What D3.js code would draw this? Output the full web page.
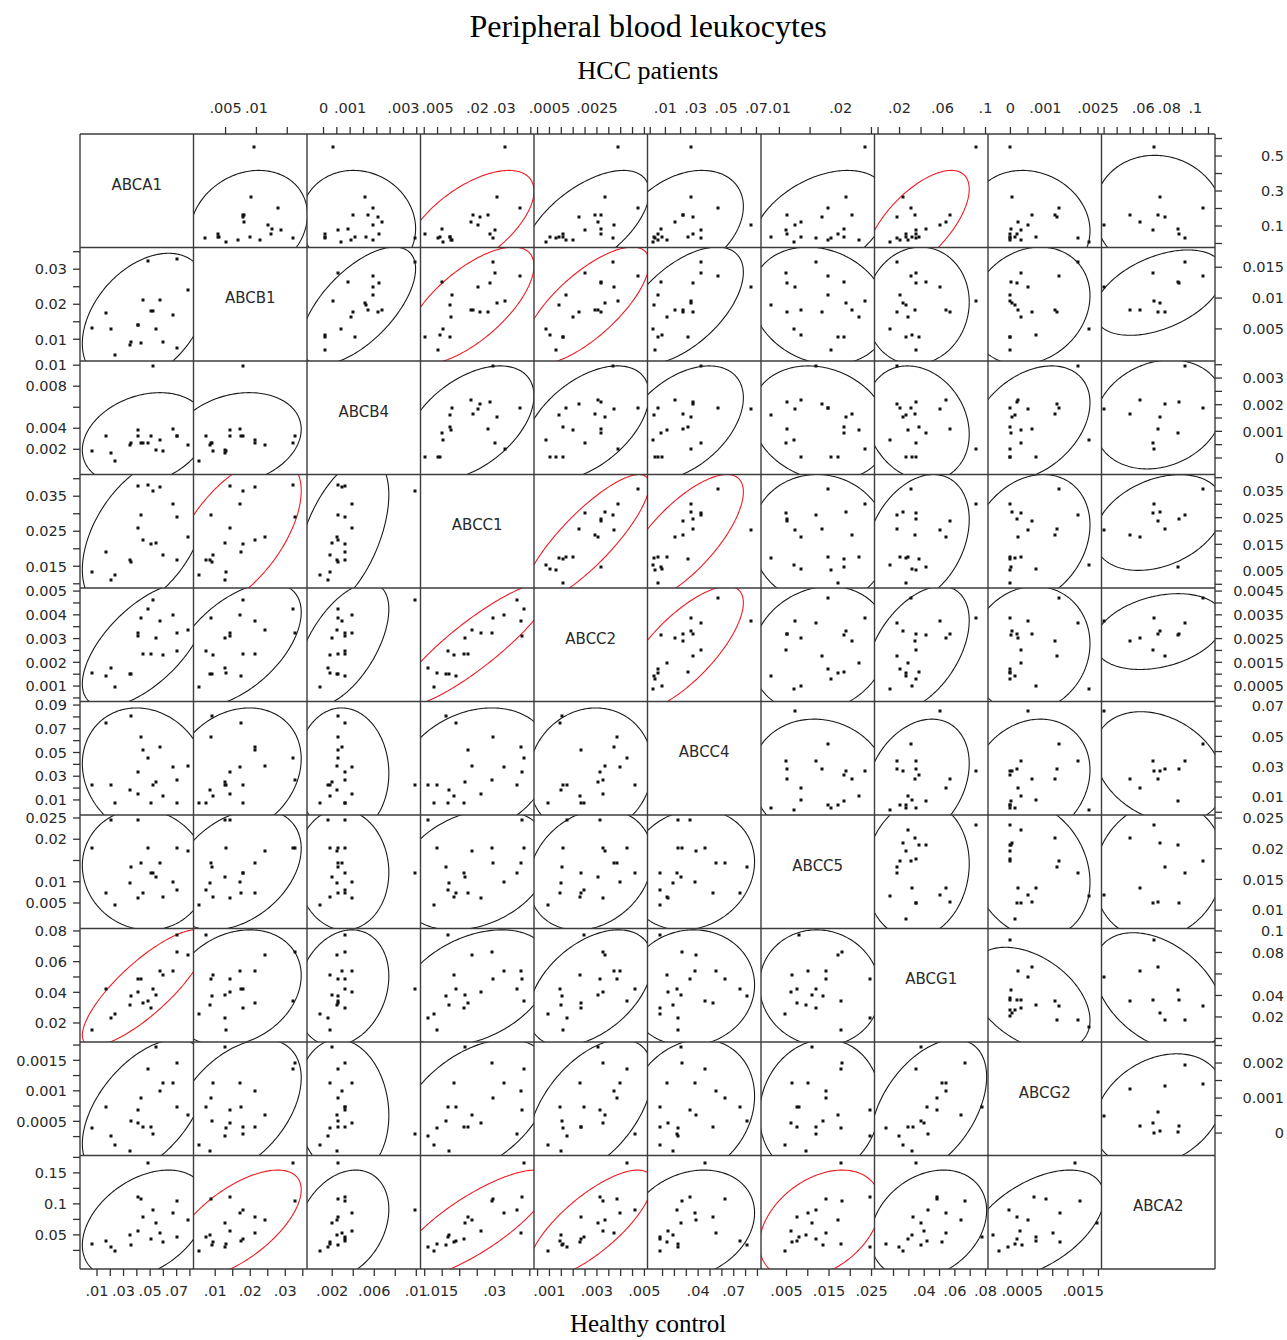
<!DOCTYPE html>
<html>
<head>
<meta charset="utf-8">
<script src="https://cdn.jsdelivr.net/npm/d3@7"></script>
<style>
  body { margin: 0; background: #fff; }
</style>
</head>
<body>
<svg id="chart" width="1287" height="1340"></svg>
<script>
// ---- transporter genes, in matrix order ----
const genes = ["ABCA1", "ABCB1", "ABCB4", "ABCC1", "ABCC2", "ABCC4", "ABCC5", "ABCG1", "ABCG2", "ABCA2"];

// ---- HCC patients (relative expression, one entry per patient) ----
const hccABCA1 = [0.201, 0.553, 0.267, 0.077, 0.030, 0.056, 0.161, 0.151, 0.104, 0.161, 0.125, 0.020, 0.022, 0.037, 0.035, 0.010, 0.085, 0.037, 0.030, 0.056];
const hccABCB1 = [0.0135, 0.0096, 0.0092, 0.0140, 0.0159, 0.0124, 0.0078, 0.0078, 0.0118, 0.0080, 0.0080, 0.0105, 0.0070, 0.0089, 0.0037, 0.0050, 0.0126, 0.0040, 0.0016, 0.0037];
const hccABCB4 = [0.00186, 0.00035, 0.00155, 0.00055, 0.00345, 0.00210, 0.00110, 0.00204, 0.00185, 0.00166, 0.00218, 0.00186, 0.00105, 0.00160, 0.00117, 0.00066, 0.00093, 0.00004, 0.00004, 0.00004];
const hccABCC1 = [0.0359, 0.0303, 0.0272, 0.0266, 0.0259, 0.0246, 0.0239, 0.0208, 0.0202, 0.0184, 0.0177, 0.0104, 0.0102, 0.0098, 0.0096, 0.0072, 0.0066, 0.0059, 0.0053, 0.0003];
const hccABCC2 = [0.00422, 0.00338, 0.00283, 0.00200, 0.00316, 0.00268, 0.00268, 0.00176, 0.00324, 0.00240, 0.00253, 0.00120, 0.00148, 0.00092, 0.00109, 0.00037, 0.00266, 0.00052, 0.00078, 0.00107];
const hccABCC4 = [0.0447, 0.0271, 0.0271, 0.0337, 0.0337, 0.0285, 0.0216, 0.0282, 0.0667, 0.0216, 0.0161, 0.0048, 0.0108, 0.0025, 0.0248, 0.0016, 0.0074, 0.0079, 0.0031, 0.0051];
const hccABCC5 = [0.0180, 0.0239, 0.0209, 0.0111, 0.0160, 0.0112, 0.0113, 0.0170, 0.0125, 0.0218, 0.0136, 0.0180, 0.0230, 0.0086, 0.0206, 0.0123, 0.0206, 0.0136, 0.0184, 0.0196];
const hccABCG1 = [0.0303, 0.0916, 0.0233, 0.0356, 0.0172, 0.0356, 0.0667, 0.0172, 0.0576, 0.0344, 0.0630, 0.0205, 0.0279, 0.0262, 0.0377, 0.0111, 0.0450, 0.0315, 0.0356, 0.0262];
const hccABCG2 = [0.00140, 0.00000, 0.00005, 0.00029, 0.00193, 0.00019, 0.00061, 0.00133, 0.00050, 0.00127, 0.00021, 0.00000, 0.00029, 0.00012, 0.00000, 0.00225, 0.00003, 0.00074, 0.00000, 0.00000];
const hccABCA2 = [0.1060, 0.0683, 0.0726, 0.0676, 0.0918, 0.0871, 0.0716, 0.0763, 0.0302, 0.0497, 0.0575, null, null, null, null, null, 0.0868, null, null, null];

// ---- healthy controls ----
const ctrlABCA1 = [0.0485, 0.0409, 0.0573, 0.0523, 0.0673, 0.0435, 0.0699, 0.0409, 0.0787, 0.0447, 0.0548, 0.0510, 0.0171, 0.0598, 0.0347, 0.0699, 0.0359, 0.0063, 0.0233, 0.0208];
const ctrlABCB1 = [0.0323, 0.0142, 0.0213, 0.0180, 0.0170, 0.0089, 0.0328, 0.0142, 0.0242, 0.0213, 0.0128, 0.0180, 0.0175, 0.0093, 0.0084, 0.0075, 0.0092, 0.0132, 0.0054, 0.0128];
const ctrlABCB4 = [0.00259, 0.00322, 0.00290, 0.00989, 0.00392, 0.00259, 0.00322, 0.00386, 0.00243, 0.00259, 0.00195, 0.00322, 0.00322, 0.00179, 0.00243, 0.00322, 0.00259, 0.00179, 0.00084, 0.00163];
const ctrlABCC1 = [0.0383, 0.0379, 0.0376, 0.0364, 0.0327, 0.0295, 0.0292, 0.0260, 0.0235, 0.0225, 0.0216, 0.0213, 0.0190, 0.0183, 0.0169, 0.0167, 0.0162, 0.0135, 0.0126, 0.0110];
const ctrlABCC2 = [0.00425, 0.00312, 0.00373, 0.00461, 0.00398, 0.00386, 0.00325, 0.00325, 0.00336, 0.00234, 0.00304, 0.00234, 0.00144, 0.00230, 0.00150, 0.00247, 0.00152, 0.00156, 0.00096, 0.00174];
const ctrlABCC4 = [0.0454, 0.0334, 0.0550, 0.0225, 0.0377, 0.0628, 0.0264, 0.0148, 0.0385, 0.0524, 0.0255, 0.0078, 0.0750, 0.0134, 0.0186, 0.0078, 0.0809, 0.0229, 0.0078, 0.0229];
const ctrlABCC5 = [0.0179, 0.0246, 0.0143, 0.0120, 0.0100, 0.0143, 0.0180, 0.0061, 0.0172, 0.0074, 0.0110, 0.0120, 0.0074, 0.0063, 0.0097, 0.0080, 0.0135, 0.0179, 0.0046, 0.0246];
const ctrlABCG1 = [0.0345, 0.0486, 0.0539, 0.0422, 0.0539, 0.0486, 0.0663, 0.0400, 0.0643, 0.0330, 0.0382, 0.0295, 0.0420, 0.0513, 0.0318, 0.0774, 0.0379, 0.0151, 0.0260, 0.0235];
const ctrlABCG2 = [0.00136, 0.00069, 0.00100, 0.00029, 0.00112, 0.00089, 0.00145, 0.00047, 0.00060, 0.00041, 0.00172, 0.00041, 0.00073, 0.00112, 0.00002, 0.00073, 0.00050, 0.00039, 0.00012, 0.00026];
const ctrlABCA2 = [0.166, 0.111, 0.053, 0.090, 0.085, 0.108, 0.105, 0.056, 0.074, 0.079, 0.069, 0.044, 0.040, 0.039, 0.050, 0.046, 0.034, 0.035, 0.024, 0.030];

// ---- axis ranges, ticks and tick labels (gene order) ----
const hccDomains = [[-0.023, 0.626], [-0.0002, 0.0182], [-0.00062, 0.00364], [-0.0014, 0.0412], [-0.00015, 0.00463],
                    [-0.0018, 0.073], [0.007, 0.0255], [-0.0033, 0.1023], [-0.00064, 0.0026], [0.028, 0.115]];
const ctrlDomains = [[-0.0028, 0.0827], [0.0038, 0.0362], [-0.0004, 0.0104], [0.0088, 0.0412], [0.00035, 0.00513],
                     [-0.0027, 0.093], [-0.001, 0.0257], [0.0076, 0.0816], [-0.00006, 0.0018], [-0.005, 0.178]];

const hccTicks = [
  [0, 0.1, 0.2, 0.3, 0.4, 0.5, 0.6],
  [0.005, 0.01, 0.015],
  [0, 0.0005, 0.001, 0.0015, 0.002, 0.0025, 0.003, 0.0035],
  [0, 0.005, 0.01, 0.015, 0.02, 0.025, 0.03, 0.035, 0.04],
  [0, 0.0005, 0.001, 0.0015, 0.002, 0.0025, 0.003, 0.0035, 0.004, 0.0045],
  [0, 0.01, 0.02, 0.03, 0.04, 0.05, 0.06, 0.07],
  [0.01, 0.015, 0.02, 0.025],
  [0, 0.02, 0.04, 0.06, 0.08, 0.1],
  [0, 0.0005, 0.001, 0.0015, 0.002, 0.0025],
  [0.03, 0.04, 0.05, 0.06, 0.07, 0.08, 0.09, 0.1, 0.11]
];
const hccTopLabels = [[], [0.005, 0.01], [0, 0.001, 0.003], [0.005, 0.02, 0.03], [0.0005, 0.0025],
                      [0.01, 0.03, 0.05, 0.07], [0.01, 0.02], [0.02, 0.06, 0.1], [0, 0.001, 0.0025], [0.06, 0.08, 0.1]];
const hccRightLabels = [[0.5, 0.3, 0.1], [0.015, 0.01, 0.005], [0.003, 0.002, 0.001, 0], [0.035, 0.025, 0.015, 0.005],
                        [0.0045, 0.0035, 0.0025, 0.0015, 0.0005], [0.07, 0.05, 0.03, 0.01], [0.025, 0.02, 0.015, 0.01],
                        [0.1, 0.08, 0.04, 0.02], [0.002, 0.001, 0], []];

const ctrlTicks = [
  [0.01, 0.02, 0.03, 0.04, 0.05, 0.06, 0.07, 0.08],
  [0.01, 0.015, 0.02, 0.025, 0.03, 0.035],
  [0.002, 0.004, 0.006, 0.008, 0.01],
  [0.01, 0.015, 0.02, 0.025, 0.03, 0.035, 0.04],
  [0.0005, 0.001, 0.0015, 0.002, 0.0025, 0.003, 0.0035, 0.004, 0.0045, 0.005],
  [0.01, 0.02, 0.03, 0.04, 0.05, 0.06, 0.07, 0.08, 0.09],
  [0.005, 0.01, 0.015, 0.02, 0.025],
  [0.02, 0.03, 0.04, 0.05, 0.06, 0.07, 0.08],
  [0.00025, 0.0005, 0.00075, 0.001, 0.00125, 0.0015, 0.00175],
  [0.025, 0.05, 0.075, 0.1, 0.125, 0.15, 0.175]
];
const ctrlBottomLabels = [[0.01, 0.03, 0.05, 0.07], [0.01, 0.02, 0.03], [0.002, 0.006, 0.01], [0.015, 0.03],
                          [0.001, 0.003, 0.005], [0.04, 0.07], [0.005, 0.015, 0.025], [0.04, 0.06, 0.08],
                          [0.0005, 0.0015], []];
const ctrlLeftLabels = [[], [0.03, 0.02, 0.01], [0.01, 0.008, 0.004, 0.002], [0.035, 0.025, 0.015],
                        [0.005, 0.004, 0.003, 0.002, 0.001], [0.09, 0.07, 0.05, 0.03, 0.01], [0.025, 0.02, 0.01, 0.005],
                        [0.08, 0.06, 0.04, 0.02], [0.0015, 0.001, 0.0005], [0.15, 0.1, 0.05]];

// pairs with a significant correlation (ellipse drawn in red)
const hccSignificant = [["ABCA1", "ABCC1"], ["ABCA1", "ABCG1"], ["ABCB1", "ABCC1"], ["ABCB1", "ABCC2"],
                        ["ABCC1", "ABCC2"], ["ABCC1", "ABCC4"], ["ABCC2", "ABCC4"]];
const ctrlSignificant = [["ABCA1", "ABCG1"], ["ABCB1", "ABCC1"], ["ABCC1", "ABCC2"], ["ABCB1", "ABCA2"],
                         ["ABCC1", "ABCA2"], ["ABCC2", "ABCA2"], ["ABCC5", "ABCA2"]];

// ---- assemble lookups ----
const hccData = [hccABCA1, hccABCB1, hccABCB4, hccABCC1, hccABCC2, hccABCC4, hccABCC5, hccABCG1, hccABCG2, hccABCA2];
const ctrlData = [ctrlABCA1, ctrlABCB1, ctrlABCB4, ctrlABCC1, ctrlABCC2, ctrlABCC4, ctrlABCC5, ctrlABCG1, ctrlABCG2, ctrlABCA2];
const pairKey = (a, b) => [a, b].sort().join("|");
const hccSig = new Set(hccSignificant.map(p => pairKey(p[0], p[1])));
const ctrlSig = new Set(ctrlSignificant.map(p => pairKey(p[0], p[1])));

// ---- layout ----
const W = 1287, H = 1340;
const gridLeft = 80, gridTop = 134, cell = 113.5, nG = genes.length;
const gridRight = gridLeft + cell * nG, gridBottom = gridTop + cell * nG;
const RED = "#ee1c24";
const SANS = "'DejaVu Sans', 'Liberation Sans', sans-serif";
const SERIF = "'Liberation Serif', 'Times New Roman', serif";

const svg = d3.select("#chart");
svg.append("rect").attr("width", W).attr("height", H).attr("fill", "#fff");

const xScale = (g, j) => d3.scaleLinear().domain((g === "hcc" ? hccDomains : ctrlDomains)[j])
  .range([gridLeft + j * cell, gridLeft + (j + 1) * cell]);
const yScale = (g, i) => d3.scaleLinear().domain((g === "hcc" ? hccDomains : ctrlDomains)[i])
  .range([gridTop + (i + 1) * cell, gridTop + i * cell]);

// 95% bivariate normal density ellipse
const chi2_95 = 5.991;
function ellipsePoints(xs, ys) {
  const pts = xs.map((x, k) => [x, ys[k]]).filter(p => p[0] != null && p[1] != null);
  const n = pts.length;
  const mx = d3.mean(pts, p => p[0]), my = d3.mean(pts, p => p[1]);
  let sxx = 0, syy = 0, sxy = 0;
  pts.forEach(p => { sxx += (p[0] - mx) ** 2; syy += (p[1] - my) ** 2; sxy += (p[0] - mx) * (p[1] - my); });
  const sdx = Math.sqrt(sxx / (n - 1)), sdy = Math.sqrt(syy / (n - 1));
  const r = sxy / Math.sqrt(sxx * syy);
  const c = Math.sqrt(chi2_95);
  const out = [];
  for (let t = 0; t <= 360; t += 1.5) {
    const a = t * Math.PI / 180, u = Math.cos(a), v = Math.sin(a);
    out.push([mx + c * sdx * u, my + c * sdy * (r * u + Math.sqrt(1 - r * r) * v)]);
  }
  return { pts, ellipse: out };
}

const defs = svg.append("defs");
const plot = svg.append("g");

for (let i = 0; i < nG; i++) {
  for (let j = 0; j < nG; j++) {
    if (i === j) continue;
    const g = i < j ? "hcc" : "ctrl";
    const data = g === "hcc" ? hccData : ctrlData;
    const sx = xScale(g, j), sy = yScale(g, i);
    const id = `clip-${i}-${j}`;
    defs.append("clipPath").attr("id", id).append("rect")
      .attr("x", gridLeft + j * cell).attr("y", gridTop + i * cell)
      .attr("width", cell).attr("height", cell);
    const cg = plot.append("g").attr("clip-path", `url(#${id})`);
    const { pts, ellipse } = ellipsePoints(data[j], data[i]);
    const sig = (g === "hcc" ? hccSig : ctrlSig).has(pairKey(genes[i], genes[j]));
    cg.append("path")
      .attr("d", d3.line().x(d => sx(d[0])).y(d => sy(d[1]))(ellipse))
      .attr("fill", "none")
      .attr("stroke", sig ? RED : "#1a1a1a")
      .attr("stroke-width", 1.1);
    cg.selectAll("rect.pt").data(pts).join("rect")
      .attr("class", "pt")
      .attr("x", d => Math.round(sx(d[0])) - 1.5)
      .attr("y", d => Math.round(sy(d[1])) - 1.5)
      .attr("width", 3).attr("height", 3)
      .attr("fill", "#111");
  }
}

// diagonal gene names
genes.forEach((name, k) => {
  svg.append("text")
    .attr("x", gridLeft + (k + 0.5) * cell)
    .attr("y", gridTop + (k + 0.5) * cell - 1)
    .attr("text-anchor", "middle")
    .style("font-family", SANS)
    .style("font-size", "15px")
    .attr("fill", "#2a2a2a")
    .text(name);
});

// grid lines
const grid = svg.append("g").attr("stroke", "#3c3c3c").attr("stroke-width", 1.4);
for (let k = 0; k <= nG; k++) {
  grid.append("line").attr("x1", gridLeft + k * cell).attr("x2", gridLeft + k * cell)
    .attr("y1", gridTop).attr("y2", gridBottom);
  grid.append("line").attr("y1", gridTop + k * cell).attr("y2", gridTop + k * cell)
    .attr("x1", gridLeft).attr("x2", gridRight);
}

// axes
const fmtX = v => v === 0 ? "0" : String(v).replace(/^0\./, ".");
const fmtY = v => String(v);
const tickLen = 7;
const axes = svg.append("g").style("font-family", SANS).style("font-size", "14.5px").attr("fill", "#2a2a2a");

for (let k = 0; k < nG; k++) {
  // top: HCC x axes (columns 1..9)
  if (k >= 1) {
    const s = xScale("hcc", k);
    hccTicks[k].forEach(v => axes.append("line").attr("x1", s(v)).attr("x2", s(v))
      .attr("y1", gridTop - tickLen).attr("y2", gridTop).attr("stroke", "#333").attr("stroke-width", 1.3));
    hccTopLabels[k].forEach(v => axes.append("text").attr("x", s(v)).attr("y", gridTop - 21)
      .attr("text-anchor", "middle").text(fmtX(v)));
  }
  // right: HCC y axes (rows 0..8)
  if (k <= nG - 2) {
    const s = yScale("hcc", k);
    hccTicks[k].forEach(v => axes.append("line").attr("y1", s(v)).attr("y2", s(v))
      .attr("x1", gridRight).attr("x2", gridRight + tickLen).attr("stroke", "#333").attr("stroke-width", 1.3));
    hccRightLabels[k].forEach(v => axes.append("text").attr("x", 1284).attr("y", s(v)).attr("dy", "0.36em")
      .attr("text-anchor", "end").text(fmtY(v)));
  }
  // bottom: control x axes (columns 0..8)
  if (k <= nG - 2) {
    const s = xScale("ctrl", k);
    ctrlTicks[k].forEach(v => axes.append("line").attr("x1", s(v)).attr("x2", s(v))
      .attr("y1", gridBottom).attr("y2", gridBottom + tickLen).attr("stroke", "#333").attr("stroke-width", 1.3));
    ctrlBottomLabels[k].forEach(v => axes.append("text").attr("x", s(v)).attr("y", gridBottom + 27)
      .attr("text-anchor", "middle").text(fmtX(v)));
  }
  // left: control y axes (rows 1..9)
  if (k >= 1) {
    const s = yScale("ctrl", k);
    ctrlTicks[k].forEach(v => axes.append("line").attr("y1", s(v)).attr("y2", s(v))
      .attr("x1", gridLeft - tickLen).attr("x2", gridLeft).attr("stroke", "#333").attr("stroke-width", 1.3));
    ctrlLeftLabels[k].forEach(v => axes.append("text").attr("x", 67).attr("y", s(v)).attr("dy", "0.36em")
      .attr("text-anchor", "end").text(fmtY(v)));
  }
}

// titles
svg.append("text").attr("x", 648).attr("y", 37).attr("text-anchor", "middle")
  .style("font-family", SERIF).style("font-size", "32px").attr("fill", "#000").text("Peripheral blood leukocytes");
svg.append("text").attr("x", 648).attr("y", 79).attr("text-anchor", "middle")
  .style("font-family", SERIF).style("font-size", "26px").attr("fill", "#000").text("HCC patients");
svg.append("text").attr("x", 648).attr("y", 1332).attr("text-anchor", "middle")
  .style("font-family", SERIF).style("font-size", "25px").attr("fill", "#000").text("Healthy control");
</script>
</body>
</html>
